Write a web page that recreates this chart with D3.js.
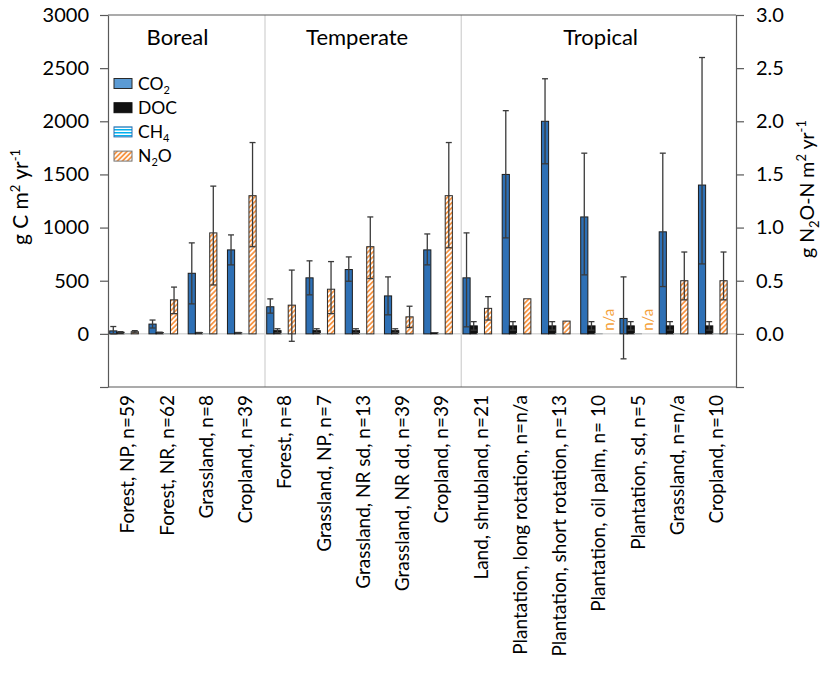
<!DOCTYPE html>
<html><head><meta charset="utf-8">
<script src="https://cdn.jsdelivr.net/npm/d3@7"></script>
<style>body{margin:0;background:#fff} text{font-family:Lato, "Open Sans", sans-serif; fill:#000}</style>
</head><body><svg id="c" width="829" height="685"></svg>
<script>
const categories = ["Forest, NP, n=59","Forest, NR, n=62","Grassland, n=8","Cropland, n=39",
  "Forest, n=8","Grassland, NP, n=7","Grassland, NR sd, n=13","Grassland, NR dd, n=39","Cropland, n=39",
  "Land, shrubland, n=21","Plantation, long rotation, n=n/a","Plantation, short rotation, n=13",
  "Plantation, oil palm, n= 10","Plantation, sd, n=5","Grassland, n=n/a","Cropland, n=10"];
const regionNames = ["Boreal","Temperate","Tropical"];
const regionSizes = [4,5,7];
const series = ["CO2","DOC","CH4","N2O",""];
const co2   = [28, 92, 570, 790, 255, 527, 605, 357, 790, 527, 1500, 2000, 1100, 145, 960, 1400];
const co2Lo = [0, 55, 282, 649, 195, 367, 495, 179, 649, 66, 903, 1600, 555, -235, 445, 658];
const co2Hi = [69, 130, 856, 931, 329, 687, 724, 536, 940, 950, 2100, 2400, 1700, 536, 1700, 2600];
const doc    = [15, 12, 10, 10, 30, 30, 30, 30, 10, 75, 75, 75, 75, 75, 75, 75];
const docErr = [6, 4, 3, 3, 18, 18, 18, 18, 0, 40, 40, 40, 40, 40, 40, 40];
const ch4    = [2, 2, 2, 2, 2, 2, 2, 2, 2, 2, 2, 2, 2, 2, 2, 2];
const n2o   = [0.02, 0.32, 0.95, 1.30, 0.27, 0.42, 0.82, 0.16, 1.30, 0.24, 0.33, 0.12, null, null, 0.50, 0.50];
const n2oLo = [0.01, 0.19, 0.46, 0.82, -0.07, 0.19, 0.52, 0.06, 0.81, 0.13, null, null, null, null, 0.32, 0.32];
const n2oHi = [0.03, 0.44, 1.39, 1.80, 0.60, 0.68, 1.10, 0.26, 1.80, 0.35, null, null, null, null, 0.77, 0.77];
const leftTicks  = [-500, 0, 500, 1000, 1500, 2000, 2500, 3000];
const rightTicks = [-0.5, 0, 0.5, 1.0, 1.5, 2.0, 2.5, 3.0];

const svg = d3.select("#c");
const L = 108, R = 736, T = 15, B = 387;
const idx = d3.range(categories.length);
const x0 = d3.scaleBand().domain(idx).range([L, R]).paddingInner(0).paddingOuter(0);
const x1 = d3.scaleBand().domain(series).range([1.7, x0.bandwidth() - 1.7]).padding(0);
const y = d3.scaleLinear().domain([-500, 3000]).range([B, T]);
const y2 = d3.scaleLinear().domain([-0.5, 3.0]).range([B, T]);

const defs = svg.append("defs");
const hatch = defs.append("pattern").attr("id","hatch").attr("patternUnits","userSpaceOnUse")
  .attr("width",3.5).attr("height",3.5).attr("patternTransform","rotate(45)");
hatch.append("rect").attr("width",3.5).attr("height",3.5).attr("fill","#fff");
hatch.append("rect").attr("width",1.8).attr("height",3.5).attr("fill","#f79646");
const stripe = defs.append("pattern").attr("id","stripe").attr("patternUnits","userSpaceOnUse")
  .attr("width",4).attr("height",3);
stripe.append("rect").attr("width",4).attr("height",3).attr("fill","#fff");
stripe.append("rect").attr("width",4).attr("height",1.5).attr("fill","#00b0f0");

// region dividers
let acc = 0;
const regionPos = [];
regionSizes.forEach((n,i)=>{
  const start = x0(acc);
  const end = x0(acc+n-1) + x0.bandwidth();
  regionPos.push((start+end)/2);
  if (i>0) svg.append("line").attr("x1",start).attr("x2",start).attr("y1",T).attr("y2",B)
    .attr("stroke","#d0d0d0").attr("stroke-width",1.2);
  acc += n;
});
const regionNudge = [-9, -6, 2];
svg.selectAll(".reg").data(regionNames).join("text")
  .attr("x",(d,i)=>regionPos[i]+regionNudge[i]).attr("y",45)
  .attr("text-anchor","middle").style("font-size","22px").text(d=>d);

// zero line
svg.append("line").attr("x1",L).attr("x2",R).attr("y1",y(0)).attr("y2",y(0))
  .attr("stroke","#d9d9d9").attr("stroke-width",1.5);

const gBars = svg.append("g");
const bw = x1.bandwidth();
function bar(i, s, v, scale, fill, stroke){
  const yv = scale(v), y0 = scale(0);
  gBars.append("rect").attr("x", x0(i)+x1(s)).attr("width", bw)
    .attr("y", Math.min(yv,y0)).attr("height", Math.abs(y0-yv))
    .attr("fill", fill).attr("stroke", stroke).attr("stroke-width", 1);
}
function err(i, s, lo, hi, scale){
  const cx = x0(i)+x1(s)+bw/2;
  const g = gBars.append("g").attr("stroke","#3a3a3a").attr("stroke-width",1.3);
  g.append("line").attr("x1",cx).attr("x2",cx).attr("y1",scale(lo)).attr("y2",scale(hi));
  [lo,hi].forEach(v=>g.append("line").attr("x1",cx-3).attr("x2",cx+3).attr("y1",scale(v)).attr("y2",scale(v)));
}
idx.forEach(i=>{
  bar(i,"CO2",co2[i],y,"#2e70b5","#1c1c1c");
  bar(i,"DOC",doc[i],y,"#111","#111");
  bar(i,"CH4",ch4[i],y,"url(#stripe)","#aaa");
  if (n2o[i]!=null) bar(i,"N2O",n2o[i],y2,"url(#hatch)","#2a2a2a");
});
idx.forEach(i=>{
  err(i,"CO2",co2Lo[i],co2Hi[i],y);
  if (docErr[i]>0) err(i,"DOC",doc[i]-docErr[i],doc[i]+docErr[i],y);
  if (n2oLo[i]!=null) err(i,"N2O",n2oLo[i],n2oHi[i],y2);
  if (n2o[i]==null){
    const cx = x0(i)+x1("N2O")+bw/2+3;
    svg.append("text").attr("transform",`translate(${cx},${y(0)-3}) rotate(-90)`)
      .attr("dy","0.35em").style("font-size","15px").style("fill","#f5a23c").text("n/a");
  }
});

// axes
const axColor = "#595959";
const ax1 = svg.append("g").attr("transform",`translate(${L},0)`)
  .call(d3.axisLeft(y).tickValues(leftTicks).tickSize(8).tickSizeOuter(0).tickPadding(11)
    .tickFormat(d=>d<0?"":d));
const ax2 = svg.append("g").attr("transform",`translate(${R},0)`)
  .call(d3.axisRight(y2).tickValues(rightTicks).tickSize(8).tickSizeOuter(0).tickPadding(12)
    .tickFormat(d=>d<0?"":d3.format(".1f")(d)));
[ax1,ax2].forEach(a=>{
  a.selectAll("path,line").attr("stroke",axColor).attr("stroke-width",1.2);
  a.selectAll("text").style("font-size","20px").style("font-family","Lato").attr("fill","#000");
});
[T,B].forEach(v=>svg.append("line").attr("x1",L).attr("x2",R).attr("y1",v).attr("y2",v)
  .attr("stroke",axColor).attr("stroke-width",1.2));

// x labels
svg.selectAll(".xl").data(idx).join("text")
  .attr("transform",i=>`translate(${x0(i)+x0.bandwidth()/2},395) rotate(-90)`)
  .attr("text-anchor","end").attr("dy","0.35em").style("font-size","19px").text(i=>categories[i]);

// axis titles
const t1 = svg.append("text").attr("transform","translate(21,197) rotate(-90)")
  .attr("text-anchor","middle").attr("dy","0.35em").style("font-size","21px");
t1.append("tspan").text("g C m");
t1.append("tspan").attr("dy",-8).style("font-size","13px").text("2");
t1.append("tspan").attr("dy",8).text(" yr");
t1.append("tspan").attr("dy",-8).style("font-size","13px").text("-1");
const t2 = svg.append("text").attr("transform","translate(807,189) rotate(-90)")
  .attr("text-anchor","middle").attr("dy","0.35em").style("font-size","19.5px");
t2.append("tspan").text("g N");
t2.append("tspan").attr("dy",5).style("font-size","13px").text("2");
t2.append("tspan").attr("dy",-5).text("O-N m");
t2.append("tspan").attr("dy",-8).style("font-size","13px").text("2");
t2.append("tspan").attr("dy",8).text(" yr");
t2.append("tspan").attr("dy",-8).style("font-size","13px").text("-1");

// legend
const legFill = ["#5b9bd5","#111","url(#stripe)","url(#hatch)"];
const legStroke = ["#2a2a2a","#111","#2a6fb0","#777"];
const legSub = [["CO","2"],["DOC",""],["CH","4"],["N","2","O"]];
series.slice(0,4).forEach((s,i)=>{
  const cy = 83.5 + i*24.2;
  svg.append("rect").attr("x",114).attr("y",cy-5).attr("width",18).attr("height",10)
    .attr("fill",legFill[i]).attr("stroke",legStroke[i]).attr("stroke-width",1);
  const t = svg.append("text").attr("x",138).attr("y",cy).attr("dy","0.35em").style("font-size","17.5px");
  const p = legSub[i];
  t.append("tspan").text(p[0]);
  if (p[1]) t.append("tspan").attr("dy",4).style("font-size","11px").text(p[1]);
  if (p[2]) t.append("tspan").attr("dy",-4).text(p[2]);
});
</script></body></html>
